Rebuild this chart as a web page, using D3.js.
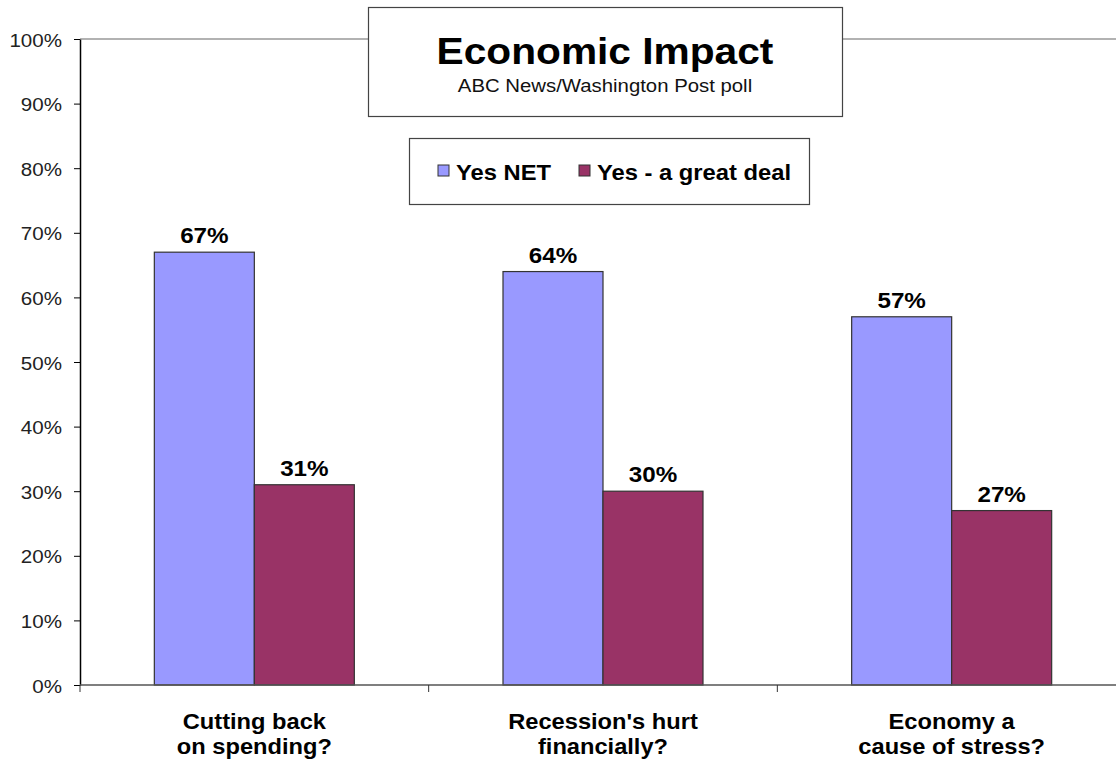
<!DOCTYPE html>
<html><head><meta charset="utf-8">
<script src="https://cdn.jsdelivr.net/npm/d3@7"></script>
<style>body{margin:0;background:#fff;} svg{display:block;font-family:Arial,"Liberation Sans",sans-serif;}</style>
</head><body>
<script>
const categories = [["Cutting back","on spending?"],["Recession's hurt","financially?"],["Economy a","cause of stress?"]];
const seriesNames = ["Yes NET","Yes - a great deal"];
const yesNet = [67,64,57];
const yesGreatDeal = [31,30,27];
const yTicks = [0,10,20,30,40,50,60,70,80,90,100];
const colors = ["#9999FF","#993366"];

const W=1116,H=762, SX=1.1;
const svg=d3.select("body").append("svg").attr("width",W).attr("height",H);
const mLeft=80, mRight=1126, mTop=39, mBottom=685;
const x=d3.scaleBand().domain(d3.range(categories.length)).range([mLeft,mRight]);
const y=d3.scaleLinear().domain([0,100]).range([mBottom,mTop]);
const sub=d3.scaleBand().domain([0,1]).range([0,200]);

function txt(px,py,str,size,weight,anchor,fill){
  return svg.append("text").attr("transform",`translate(${px},${py}) scale(${SX},1)`)
    .attr("text-anchor",anchor||"middle").attr("font-size",size).attr("font-weight",weight||"normal")
    .attr("fill",fill||"#000").text(str);
}

// top border line
svg.append("line").attr("x1",mLeft).attr("x2",W).attr("y1",y(100)).attr("y2",y(100)).attr("stroke","#999").attr("stroke-width",1.5);

// y axis
const ya=svg.append("g").attr("transform",`translate(${mLeft},0)`).call(d3.axisLeft(y).tickValues(yTicks).tickFormat(d=>d+"%").tickSize(6).tickSizeOuter(0));
ya.select(".domain").attr("stroke","#000").attr("stroke-width",1.5);
ya.selectAll(".tick line").attr("stroke","#000");
ya.selectAll(".tick text").attr("font-size",18.7).attr("fill","#222").attr("x",0).attr("dy",null)
  .attr("transform",`translate(-18,7) scale(${SX},1)`).attr("font-family","Arial,'Liberation Sans',sans-serif");

const data=[yesNet,yesGreatDeal];
categories.forEach((c,i)=>{
  const gx=x(i)+x.bandwidth()/2-100;
  data.forEach((s,j)=>{
    svg.append("rect").attr("x",gx+sub(j)).attr("y",y(s[i])).attr("width",sub.bandwidth()).attr("height",y(0)-y(s[i]))
      .attr("fill",colors[j]).attr("stroke","#333").attr("stroke-width",1.2);
    txt(gx+sub(j)+sub.bandwidth()/2, y(s[i])-9, s[i]+"%", 22, "bold");
  });
  c.forEach((line,k)=>txt(x(i)+x.bandwidth()/2, 729+k*25, line, 21.5, "bold"));
});

// x axis
svg.append("line").attr("x1",mLeft).attr("x2",W).attr("y1",mBottom).attr("y2",mBottom).attr("stroke","#555").attr("stroke-width",1.5);
d3.range(categories.length+1).forEach(i=>{
  const xx=i<categories.length?x(i):mRight;
  svg.append("line").attr("x1",xx).attr("x2",xx).attr("y1",mBottom).attr("y2",mBottom+7).attr("stroke","#333");
});

// title box
svg.append("rect").attr("x",368.5).attr("y",7.5).attr("width",474).attr("height",109).attr("fill","#fff").attr("stroke","#444").attr("stroke-width",1.2);
txt(605,64,"Economic Impact",37,"bold");
txt(605,92,"ABC News/Washington Post poll",18.5,"normal","middle","#111");

// legend
svg.append("rect").attr("x",409.5).attr("y",138.5).attr("width",400).attr("height",66).attr("fill","#fff").attr("stroke","#444").attr("stroke-width",1.2);
const lx=[438,579];
seriesNames.forEach((n,j)=>{
  svg.append("rect").attr("x",lx[j]).attr("y",165).attr("width",11).attr("height",11).attr("fill",colors[j]).attr("stroke","#333");
  txt(lx[j]+18,180,n,21.6,"bold","start");
});
</script>
</body></html>
